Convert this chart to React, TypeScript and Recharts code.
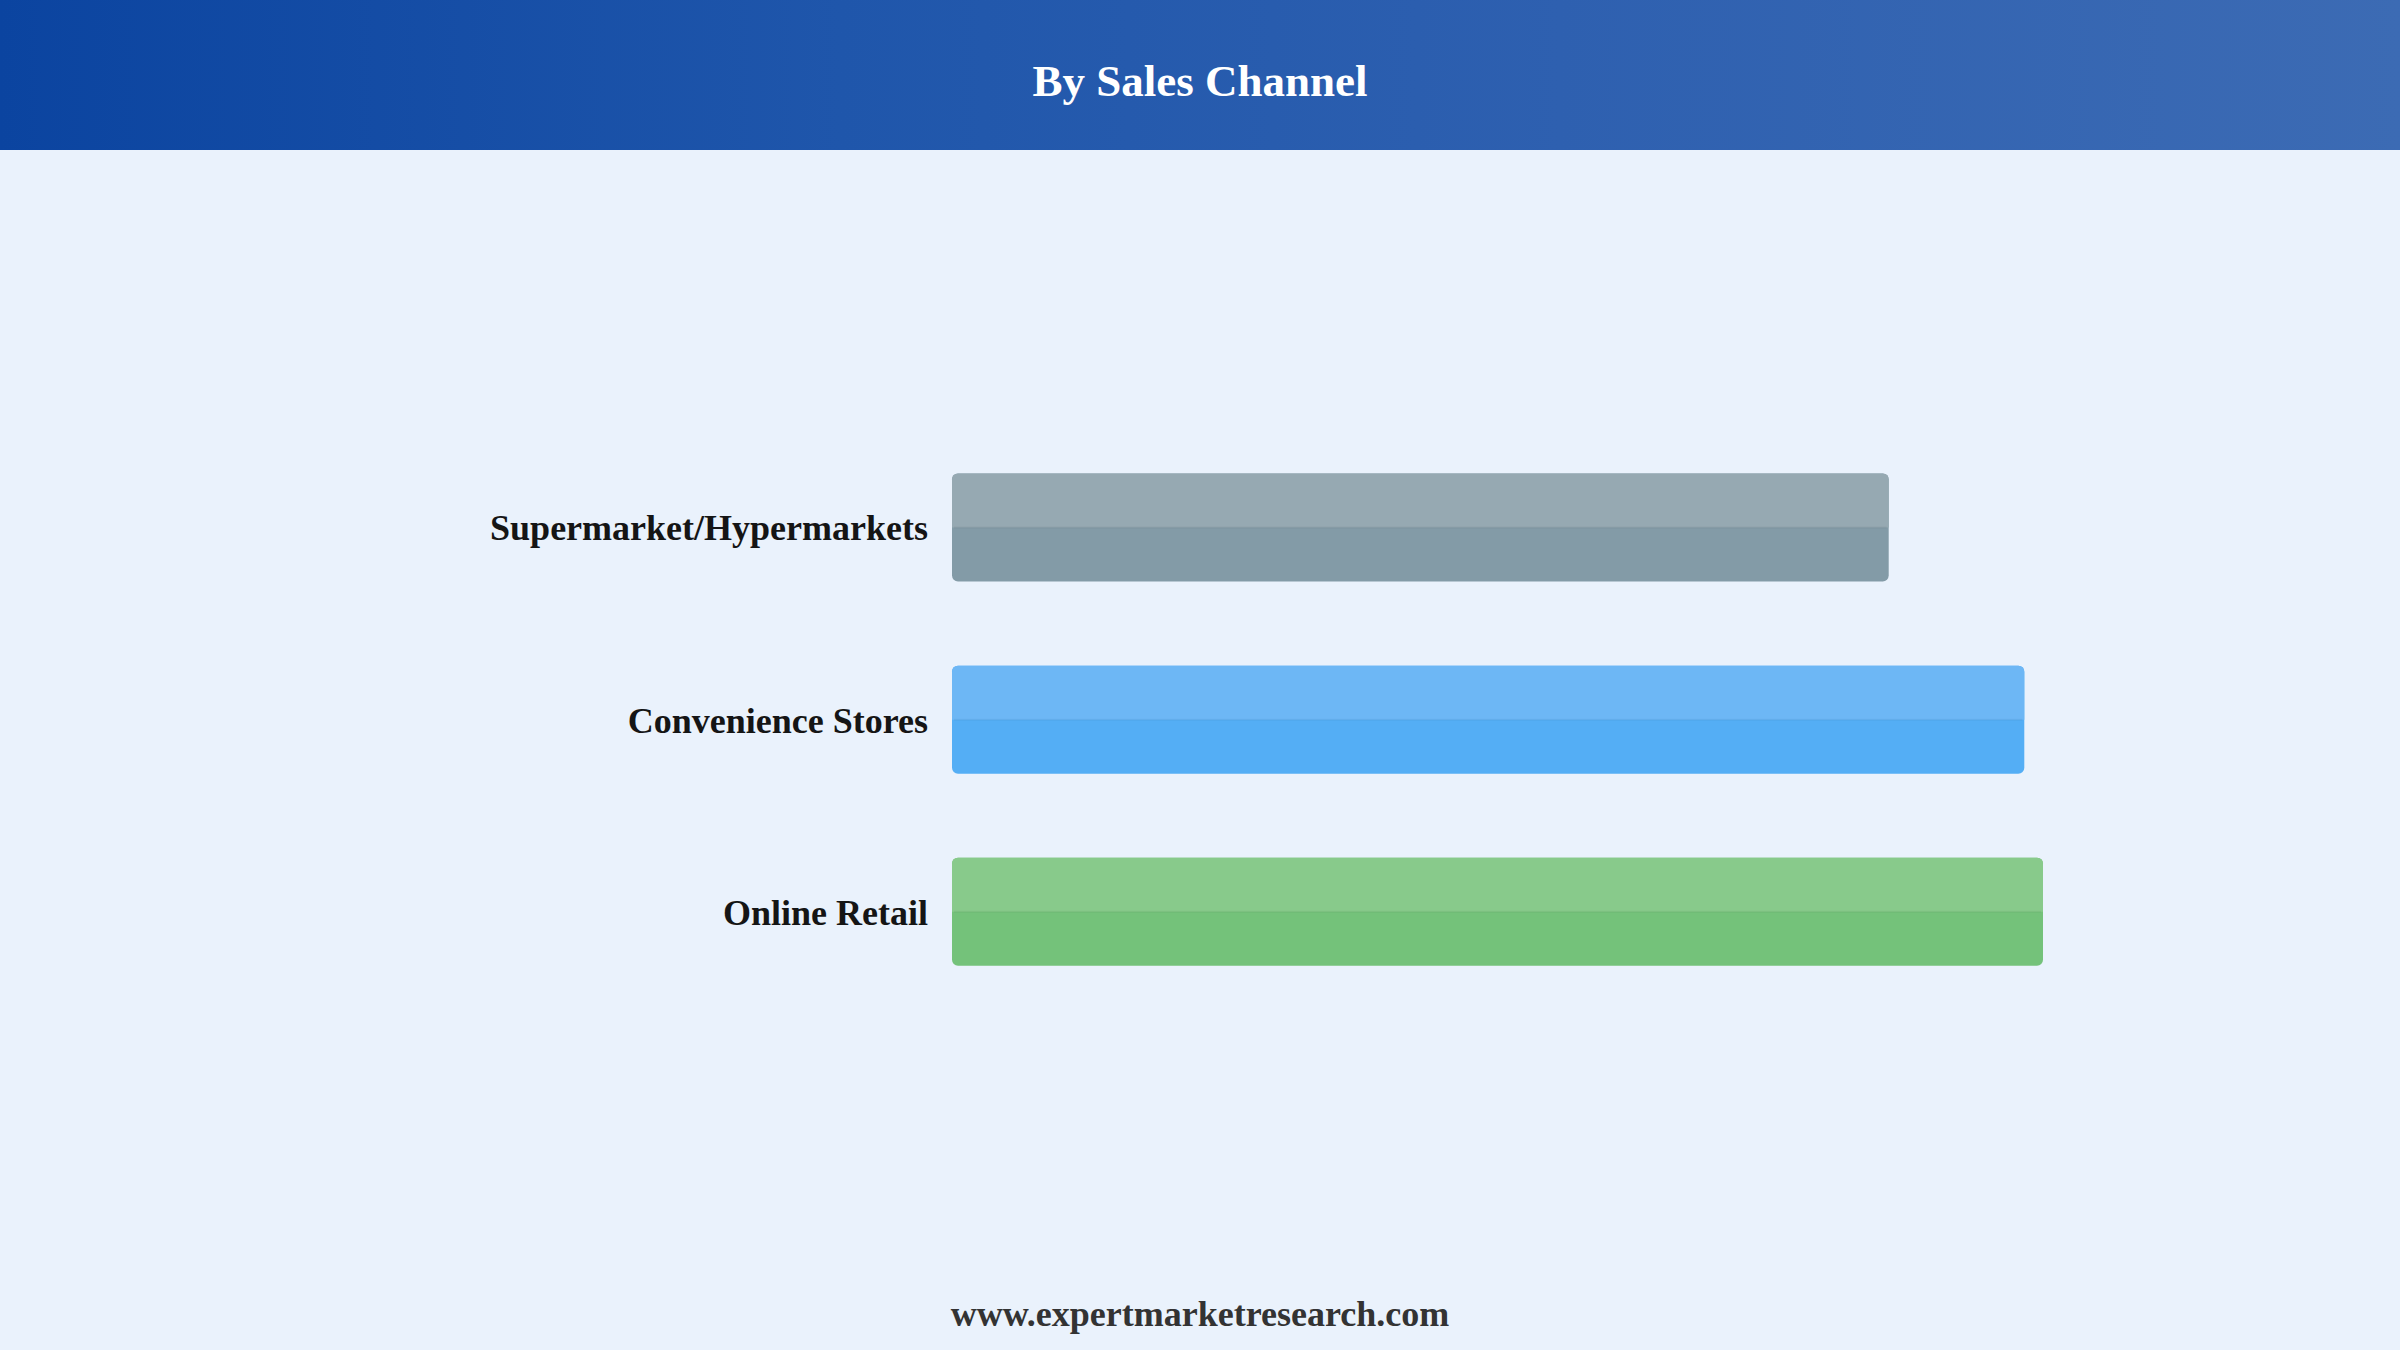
import { BarChart, Bar, XAxis, YAxis, Cell } from 'recharts';

const channels = ['Supermarket/Hypermarkets', 'Convenience Stores', 'Online Retail'];
const shares = [30.05, 34.4, 35];
const topColors = ['#96a9b2', '#6db7f5', '#88ca8b'];
const baseColors = ['#839ba7', '#54aef5', '#74c27a'];

const chartData = channels.map((name, i) => ({ name, value: shares[i], idx: i }));

const SERIF = '"Liberation Serif", "Times New Roman", serif';

// two-tone bar: darker body, lighter top half
function TwoToneBar(props: any) {
  const { x, y, width, height, payload } = props;
  if (!width || width <= 0) return null;
  const r = 6;
  const half = height / 2;
  const i = payload.idx;
  const topPath = `M${x},${y + half} L${x},${y + r} Q${x},${y} ${x + r},${y} L${x + width - r},${y} Q${x + width},${y} ${x + width},${y + r} L${x + width},${y + half} Z`;
  return (
    <g>
      <rect x={x} y={y} width={width} height={height} rx={r} ry={r} fill={baseColors[i]} />
      <path d={topPath} fill={topColors[i]} />
      <line x1={x + 2} x2={x + width - 2} y1={y + half} y2={y + half} stroke="rgba(0,0,0,0.04)" strokeWidth={2} />
    </g>
  );
}

export default function App() {
  return (
    <div
      style={{
        position: 'absolute',
        left: 0,
        top: 0,
        width: 2400,
        height: 1350,
        background: '#eaf2fc',
        overflow: 'hidden',
        fontFamily: SERIF,
      }}
    >
      <div
        style={{
          position: 'absolute',
          left: 0,
          top: 0,
          width: 2400,
          height: 150,
          background: 'linear-gradient(90deg, #0b44a0 0%, #1f56ab 35%, #2e60b0 65%, #3c6bb4 100%)',
          color: '#ffffff',
          fontWeight: 700,
          fontSize: 45,
          textAlign: 'center',
          lineHeight: '162px',
        }}
      >
        By Sales Channel
      </div>

      <div style={{ position: 'absolute', left: 0, top: 0 }}>
        <BarChart
          width={2400}
          height={1350}
          data={chartData}
          layout="vertical"
          margin={{ top: 431.5, bottom: 342, left: 0, right: 357 }}
        >
          <XAxis type="number" domain={[0, 35]} hide />
          <YAxis
            type="category"
            dataKey="name"
            width={952}
            axisLine={false}
            tickLine={false}
            tickSize={0}
            tickMargin={24}
            tick={{ fontSize: 36, fontWeight: 700, fill: '#151515', fontFamily: SERIF }}
          />
          <Bar dataKey="value" barSize={108} shape={<TwoToneBar />} isAnimationActive={false}>
            {chartData.map((entry, index) => (
              <Cell key={`cell-${index}`} fill={baseColors[entry.idx]} />
            ))}
          </Bar>
        </BarChart>
      </div>

      <div
        style={{
          position: 'absolute',
          left: 0,
          width: 2400,
          top: 1293,
          textAlign: 'center',
          fontSize: 36,
          fontWeight: 700,
          color: '#333333',
        }}
      >
        www.expertmarketresearch.com
      </div>
    </div>
  );
}
